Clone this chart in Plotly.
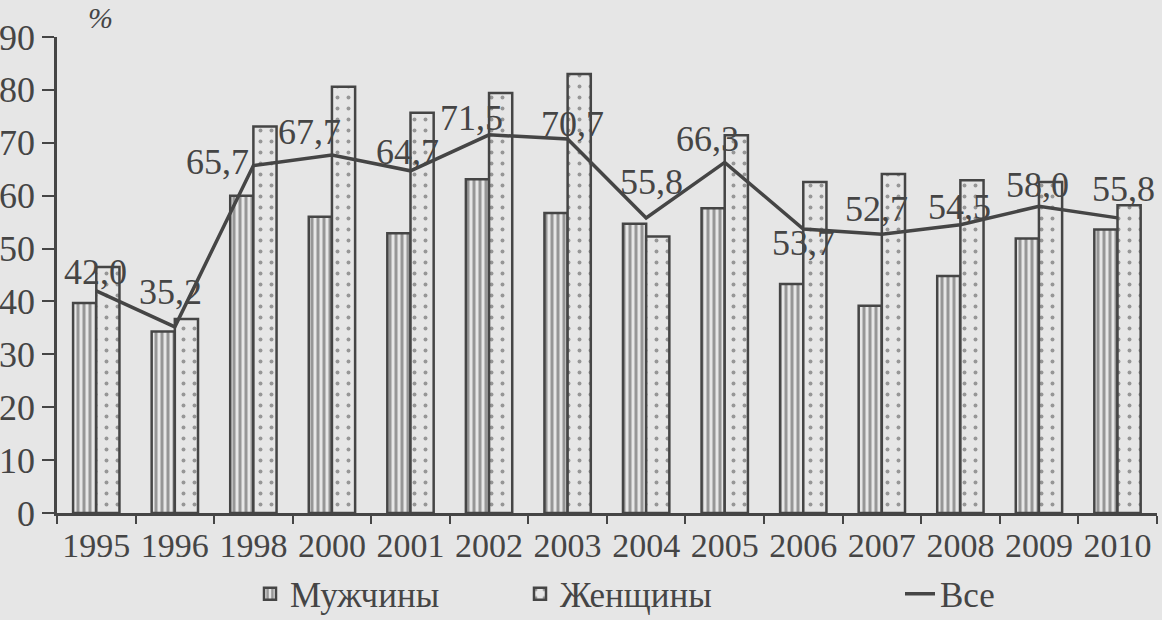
import plotly.graph_objects as go

years = ["1995", "1996", "1998", "2000", "2001", "2002", "2003",
         "2004", "2005", "2006", "2007", "2008", "2009", "2010"]
men = [39.7, 34.3, 60.0, 56.0, 52.9, 63.1, 56.7, 54.7, 57.6, 43.3, 39.2, 44.8, 51.9, 53.6]
women = [46.5, 36.7, 73.1, 80.6, 75.7, 79.4, 83.0, 52.3, 71.4, 62.6, 64.1, 62.9, 62.6, 58.2]
total = [42.0, 35.2, 65.7, 67.7, 64.7, 71.5, 70.7, 55.8, 66.3, 53.7, 52.7, 54.5, 58.0, 55.8]
total_labels = ["42,0", "35,2", "65,7", "67,7", "64,7", "71,5", "70,7",
                "55,8", "66,3", "53,7", "52,7", "54,5", "58,0", "55,8"]

# label offsets from the point, px (right, up)
lab_dx = [-1, -4, -36, -22, -3, -18, 5, 5, -17, 0, -5, -1, -1, 6]
lab_dy = [19, 35, 4, 23, 19, 17, 15, 36, 23, -14, 25, 18, 21, 29]

INK = "#454545"
BG = "#e6e6e6"
FONT = "Liberation Serif"
W, H = 1162, 620
ML, MR, MT, MB = 57, 5, 37, 107
PW, PH = W - ML - MR, H - MT - MB
LEG_Y = -(594 - (H - MB)) / PH

fig = go.Figure()
fig.add_trace(go.Bar(
    x=years, y=men, name="Мужчины",
    marker=dict(color=BG, line=dict(color=INK, width=2.5),
                pattern=dict(shape="|", fgcolor=INK, bgcolor=BG, size=6, solidity=0.5)),
))
fig.add_trace(go.Bar(
    x=years, y=women, name="Женщины",
    marker=dict(color=BG, line=dict(color=INK, width=2.5),
                pattern=dict(shape=".", fgcolor=INK, bgcolor=BG, size=11, solidity=0.1)),
))
fig.add_trace(go.Scatter(
    x=years, y=total, name="Все", mode="lines",
    line=dict(color=INK, width=3.5),
    cliponaxis=False, legend="legend2",
))

# category axis: annotations placed by index so "1995" is not read as a number
annots = [dict(x=i, y=v, text=t, xshift=dx, yshift=dy, showarrow=False,
               xanchor="center", yanchor="middle",
               font=dict(family=FONT, size=36, color=INK))
          for i, (v, t, dx, dy) in enumerate(zip(total, total_labels, lab_dx, lab_dy))]
annots.append(dict(text="<i>%</i>", xref="paper", yref="paper", showarrow=False,
                   xanchor="center", yanchor="middle",
                   x=(100 - ML) / PW, y=1 + (MT - 18) / PH,
                   font=dict(size=30, color=INK)))

fig.update_layout(
    width=W, height=H,
    paper_bgcolor=BG, plot_bgcolor=BG,
    margin=dict(l=ML, r=MR, t=MT, b=MB, autoexpand=False),
    barmode="group", bargap=0.41, bargroupgap=0,
    font=dict(family=FONT, size=34, color=INK),
    showlegend=True,
    legend=dict(orientation="h", x=(250 - ML) / PW, xanchor="left",
                y=LEG_Y, yanchor="middle",
                font=dict(size=35), entrywidth=225, traceorder="normal",
                bgcolor="rgba(0,0,0,0)"),
    legend2=dict(orientation="h", x=(900 - ML) / PW, xanchor="left",
                 y=LEG_Y, yanchor="middle",
                 font=dict(size=35), bgcolor="rgba(0,0,0,0)"),
    xaxis=dict(type="category", showline=True, linecolor=INK, linewidth=2.5,
               ticks="outside", tickson="boundaries", ticklen=8, tickcolor=INK,
               tickwidth=2, showgrid=False, tickfont=dict(size=34), automargin=False),
    yaxis=dict(range=[0, 90], dtick=10, showline=True, linecolor=INK, linewidth=2.5,
               ticks="outside", ticklen=12, tickcolor=INK, tickwidth=2,
               showgrid=False, zeroline=False, tickfont=dict(size=36), automargin=False),
    annotations=annots,
)

fig.write_html("out.html", config={"displayModeBar": False},
               post_script="document.body.style.margin='0';")
